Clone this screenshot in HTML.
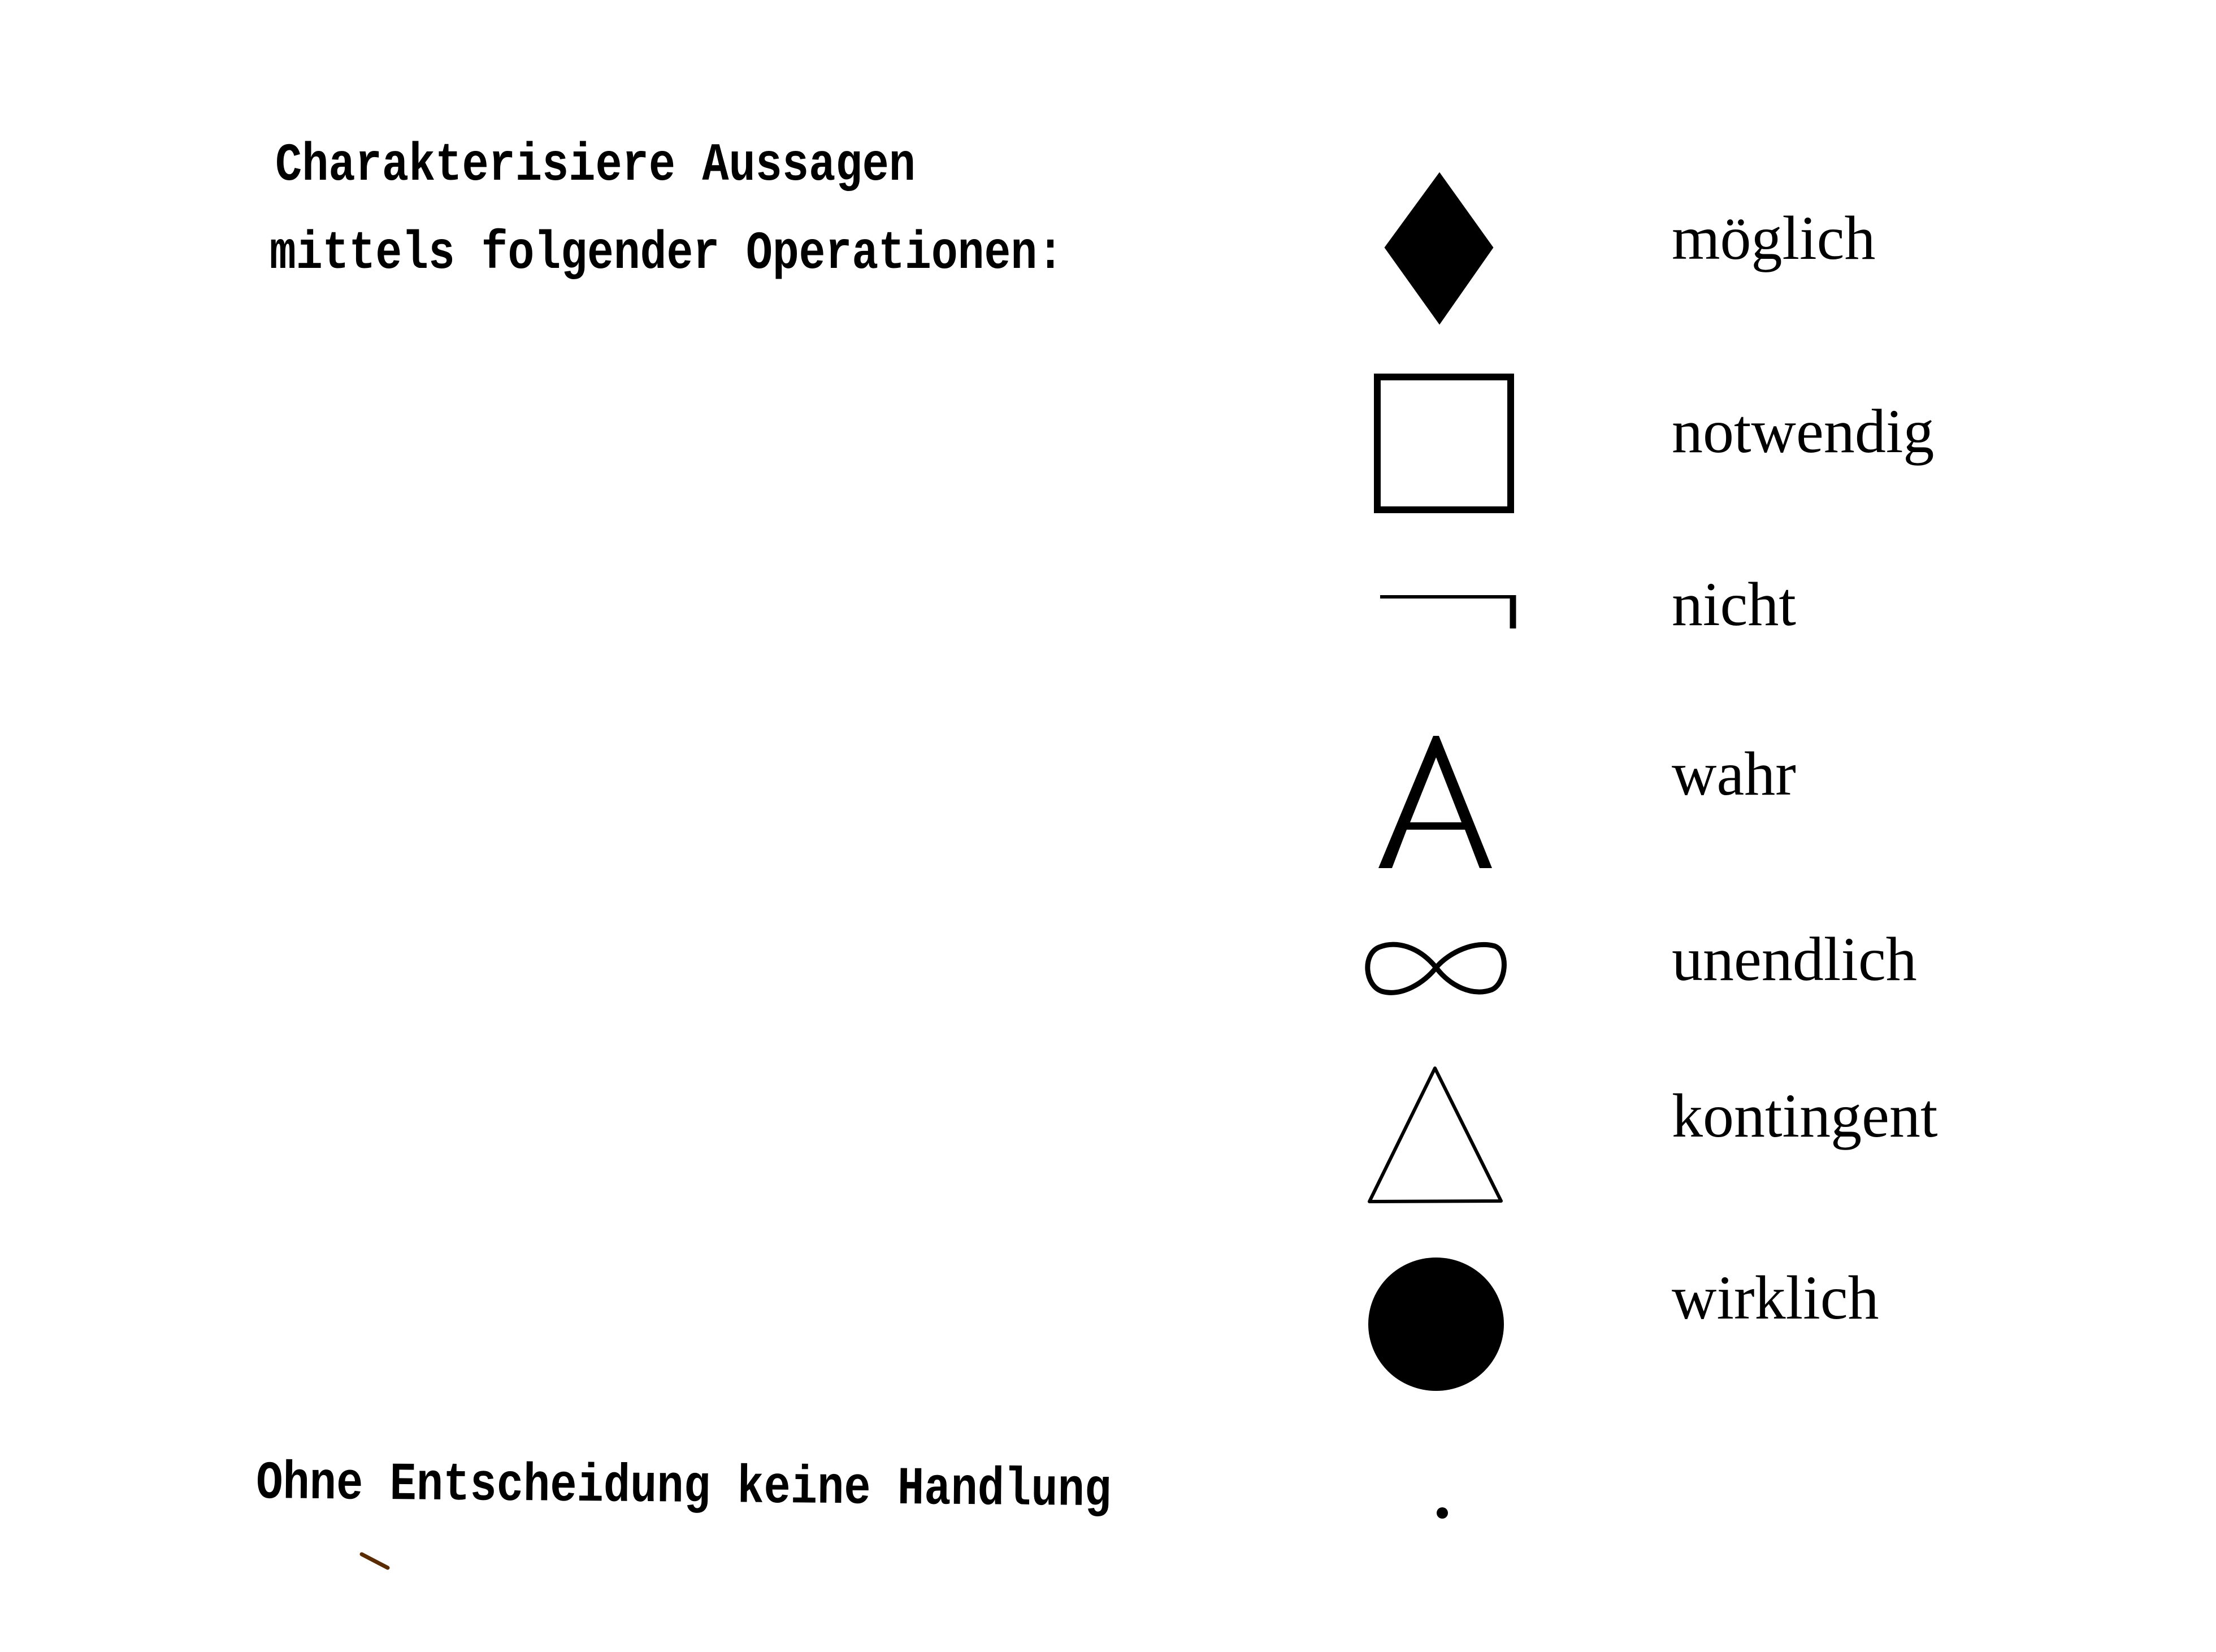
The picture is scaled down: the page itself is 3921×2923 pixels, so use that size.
<!DOCTYPE html>
<html><head><meta charset="utf-8"><style>
html,body{margin:0;padding:0;background:#fff;}
svg{display:block;}
.tw{font-family:"Liberation Mono",monospace;font-weight:bold;font-size:79px;fill:#000;}
.sf{font-family:"Liberation Serif",serif;font-size:110px;fill:#000;}
</style></head><body>
<svg width="3921" height="2923" viewBox="0 0 3921 2923" xmlns="http://www.w3.org/2000/svg">
<rect width="3921" height="2923" fill="#fff"/>
<g transform="translate(487,318) scale(1,1.2)"><text class="tw" x="0" y="0" textLength="1133" lengthAdjust="spacingAndGlyphs">Charakterisiere Aussagen</text></g>
<g transform="translate(477,474) scale(1,1.2)"><text class="tw" x="0" y="0" textLength="1405" lengthAdjust="spacingAndGlyphs">mittels folgender Operationen:</text></g>
<g transform="translate(453,2650) rotate(0.5) scale(1,1.2)"><text class="tw" x="0" y="0" textLength="1513" lengthAdjust="spacingAndGlyphs">Ohne Entscheidung keine Handlung</text></g>
<line x1="640" y1="2750" x2="686" y2="2774" stroke="#5a2a00" stroke-width="7" stroke-linecap="round"/>

<polygon points="2547,308 2640,438 2547,571 2452,438" fill="#000" stroke="#000" stroke-width="4"/>
<rect x="2437" y="667" width="236" height="235" fill="none" stroke="#000" stroke-width="12"/>
<line x1="2442" y1="1056" x2="2682" y2="1056" stroke="#000" stroke-width="6"/>
<line x1="2677" y1="1053" x2="2677" y2="1112" stroke="#000" stroke-width="11"/>
<polygon points="2536,1302 2546,1302 2640,1536 2618,1536 2592,1468 2489,1468 2463,1536 2439,1536" fill="#000"/>
<polygon points="2541,1340 2586,1455 2495,1455" fill="#fff"/>
<path d="M2541,1712 C2510,1674 2470,1664 2440,1676 C2410,1689 2415,1744 2445,1754 C2480,1764 2520,1739 2541,1712 C2565,1684 2610,1664 2645,1674 C2670,1684 2665,1739 2640,1751 C2605,1764 2565,1744 2541,1712 Z" fill="none" stroke="#000" stroke-width="9"/>
<polygon points="2539,1890 2656,2125 2423,2126" fill="none" stroke="#000" stroke-width="6" stroke-linejoin="round"/>
<ellipse cx="2541" cy="2343" rx="120" ry="118" fill="#000"/>
<circle cx="2552" cy="2677" r="10" fill="#000"/>

<text class="sf" x="2958" y="458">möglich</text>
<text class="sf" x="2958" y="800">notwendig</text>
<text class="sf" x="2958" y="1106">nicht</text>
<text class="sf" x="2958" y="1406">wahr</text>
<text class="sf" x="2958" y="1734">unendlich</text>
<text class="sf" x="2958" y="2011">kontingent</text>
<text class="sf" x="2958" y="2333">wirklich</text>
</svg>
</body></html>
